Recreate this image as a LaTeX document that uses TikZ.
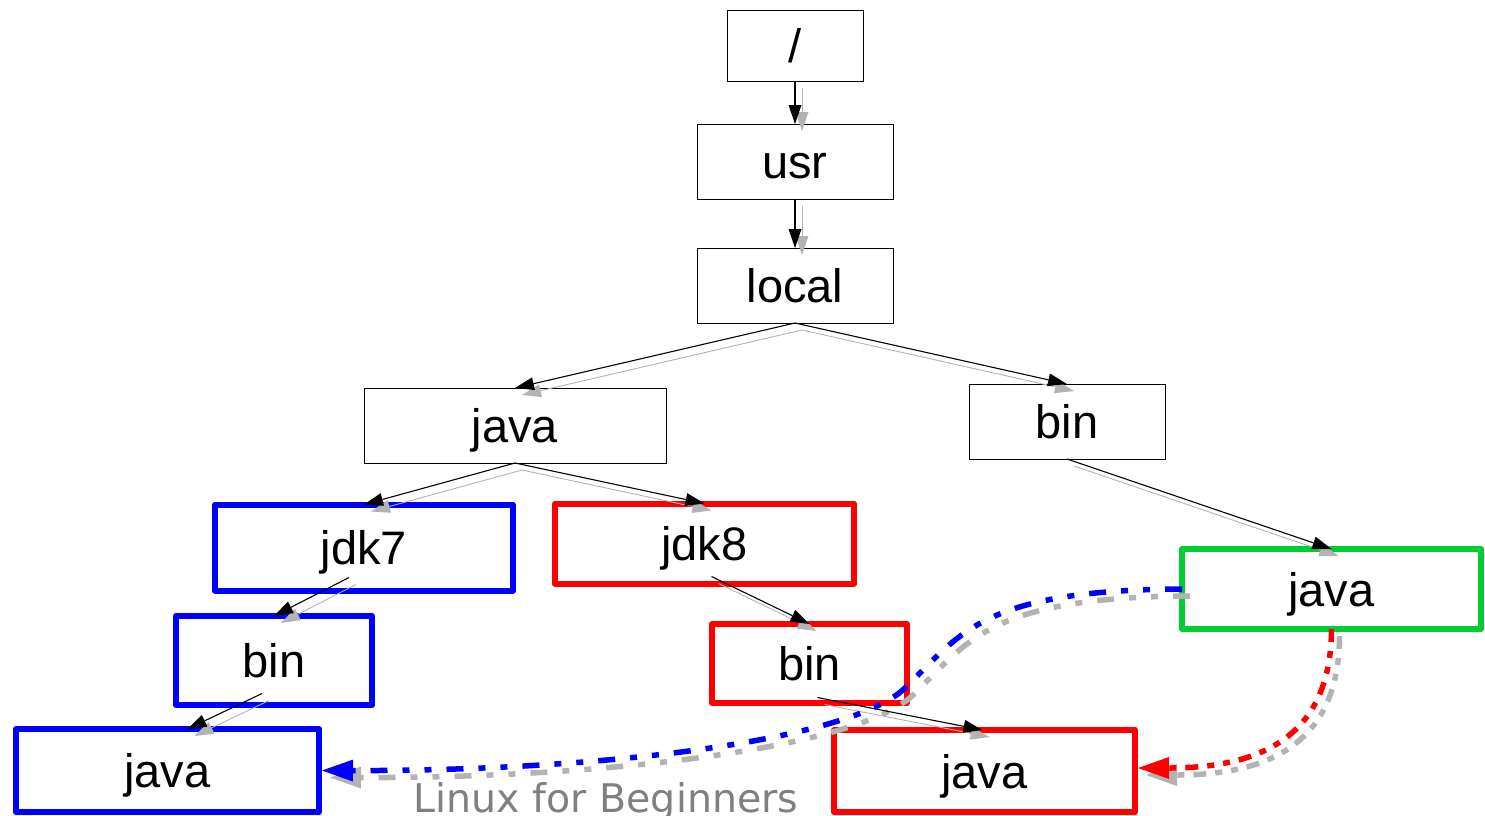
\documentclass[tikz,border=0pt]{standalone}
\usepackage{fontspec}
\setmainfont{Liberation Sans}
\newfontfamily\dejavu{DejaVu Sans}
\usetikzlibrary{arrows.meta,calc}
\definecolor{sgray}{RGB}{179,179,179}
\definecolor{gjgreen}{RGB}{0,204,51}
\definecolor{lgray}{RGB}{128,128,128}
\begin{document}
\begin{tikzpicture}[x=1pt,y=-1pt,
  box/.style={draw, line width=1pt, inner sep=0pt, outer sep=0pt, text height=34pt, text depth=0pt, font=\fontsize{47}{50}\selectfont},
  cbox/.style={box, line width=6pt, line join=round},
  edge/.style={line width=1.1pt, -{Triangle[length=19pt,width=13pt,line width=0pt]}},
  sedge/.style={sgray, line width=0.9pt, -{Triangle[length=19pt,width=13pt,line width=0pt]}, transform canvas={xshift=7pt,yshift=-7pt}},
  bigtip/.style={-{Triangle[length=31pt,width=22pt,line width=0pt]}},
  bdash/.style={line width=5.5pt, bigtip, dash pattern=on 17pt off 15pt on 7pt off 15pt on 7pt off 15pt},
  rdash/.style={line width=5.5pt, bigtip, dash pattern=on 13pt off 9pt on 7pt off 9pt on 7pt off 9pt},
  dshadow/.style={sgray, transform canvas={xshift=8pt,yshift=-7pt}}
]
\useasboundingbox (0,0) rectangle (1485,815);
% nodes
\node[box, minimum width=136pt, minimum height=71pt] (root) at (795,45.5) {/};
\node[box, minimum width=196pt, minimum height=75pt] (usr) at (795,161.5) {usr};
\node[box, minimum width=196pt, minimum height=75pt] (local) at (795,285.5) {local};
\node[box, minimum width=302pt, minimum height=75pt] (java) at (515,425.5) {java};
\node[box, minimum width=196pt, minimum height=75pt] (bin) at (1067,421.5) {bin};
\node[cbox, draw=blue, minimum width=298pt, minimum height=86pt] (jdk7) at (364,547.5) {jdk7};
\node[cbox, draw=red, minimum width=299pt, minimum height=80pt] (jdk8) at (704.5,543.5) {jdk8};
\node[cbox, draw=blue, minimum width=196pt, minimum height=89pt] (bbin) at (274,660.5) {bin};
\node[cbox, draw=blue, minimum width=303pt, minimum height=83pt] (bjava) at (167.5,770.5) {java};
\node[cbox, draw=red, minimum width=195pt, minimum height=79pt] (rbin) at (809.5,663.5) {bin};
\node[cbox, draw=red, minimum width=301pt, minimum height=82pt] (rjava) at (984.5,771) {java};
\node[cbox, draw=gjgreen, minimum width=299pt, minimum height=80pt] (gjava) at (1331.5,589) {java};
\node[font=\dejavu\fontsize{39.5}{42}\selectfont, text=lgray, anchor=base, inner sep=0pt] (lbl) at (606,812) {Linux for Beginners};
% edge end points inside boxes
\coordinate (s8) at ($(jdk7.center)+(-15,30)$);
\coordinate (s9) at ($(bbin.center)+(-12,33)$);
\coordinate (t9) at ($(bjava.north)+(20,0)$);
\coordinate (s10) at ($(jdk8.center)+(7,33)$);
\coordinate (s11) at ($(rbin.center)+(8,34)$);
\coordinate (t11) at ($(rjava.north)+(-2,0)$);
\coordinate (bend) at ($(bjava.east)+(3,0)$);
\coordinate (rend) at ($(rjava.east)+(3,-3)$);
% shadows
\foreach \a/\b in {root.south/usr.north, usr.south/local.north, local.south/java.north, local.south/bin.north, java.south/jdk7.north, java.south/jdk8.north, bin.south/gjava.north, s8/bbin.north, s9/t9, s10/rbin.north, s11/t11}
  \draw[sedge] (\a) -- (\b);
\draw[bdash, dshadow] (gjava.west) .. controls (980,590) and (960,635) .. (905,688) .. controls (850,741) and (600,771) .. (bend);
\draw[rdash, dshadow] (gjava.south) .. controls (1331,728) and (1272,768) .. (rend);
% edges
\foreach \a/\b in {root.south/usr.north, usr.south/local.north, local.south/java.north, local.south/bin.north, java.south/jdk7.north, java.south/jdk8.north, bin.south/gjava.north, s8/bbin.north, s9/t9, s10/rbin.north, s11/t11}
  \draw[edge] (\a) -- (\b);
\draw[bdash, blue] (gjava.west) .. controls (980,590) and (960,635) .. (905,688) .. controls (850,741) and (600,771) .. (bend);
\draw[rdash, red] (gjava.south) .. controls (1331,728) and (1272,768) .. (rend);
\end{tikzpicture}
\end{document}
